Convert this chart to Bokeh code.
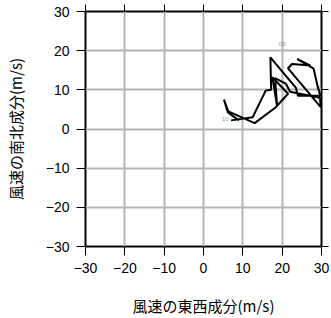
from bokeh.plotting import figure
from bokeh.models import FixedTicker, LinearAxis, Range1d
from bokeh.core.properties import value
from bokeh.embed import file_html
from bokeh.resources import INLINE

# wind components (m/s)
u = [7.0, 12.5, 15.8, 17.2, 17.0, 23.5, 24.0, 29.7, 29.0, 28.0, 23.8, 27.2,
     22.5, 21.5, 29.8, 29.6, 22.0, 21.0, 18.2, 18.7, 17.5, 21.5, 18.3, 13.0,
     6.3, 5.2, 6.2, 9.0]
v = [2.2, 3.0, 9.8, 10.0, 18.3, 10.5, 8.5, 8.5, 11.0, 15.4, 17.9, 16.2,
     16.6, 15.5, 5.6, 8.0, 9.5, 11.5, 13.0, 6.0, 13.2, 9.0, 5.5, 1.5,
     4.5, 7.5, 4.2, 2.2]
label_text = ["09", "10", "10"]
label_u = [20.0, 5.5, 29.3]
label_v = [21.8, 2.5, 10.8]
ticks = [-30, -20, -10, 0, 10, 20, 30]
tick_labels = {t: (str(t).replace("-", "\u2212")) for t in ticks}

p = figure(width=331, height=318, output_backend="svg", toolbar_location=None,
           x_range=Range1d(-30, 30), y_range=Range1d(-30, 30),
           x_axis_label="風速の東西成分(m/s)", y_axis_label="風速の南北成分(m/s)",
           min_border_left=85, min_border_right=10, min_border_top=11,
           min_border_bottom=72)
p.background_fill_color = "white"
p.border_fill_color = "white"
p.outline_line_color = "black"
p.outline_line_width = 2

for ax in (p.xaxis[0], p.yaxis[0]):
    ax.ticker = FixedTicker(ticks=ticks)
    ax.major_label_overrides = tick_labels
    ax.major_tick_out = 9
    ax.major_tick_in = 0
    ax.minor_tick_out = 0
    ax.minor_tick_in = 0
    ax.axis_line_color = None
    ax.major_tick_line_color = "black"
    ax.major_label_text_font = "Liberation Sans"
    ax.major_label_text_font_size = "14px"
    ax.major_label_text_color = "black"
    ax.major_label_standoff = 7
    ax.axis_label_text_font = "Noto Sans CJK JP"
    ax.axis_label_text_font_size = "15px"
    ax.axis_label_text_font_style = "normal"
    ax.axis_label_text_color = "black"
    ax.axis_label_standoff = 19
p.yaxis[0].axis_label_standoff = 17

for loc in ("above", "right"):
    a = LinearAxis(ticker=FixedTicker(ticks=ticks),
                   major_label_overrides={t: "" for t in ticks},
                   major_tick_out=7, major_tick_in=0, minor_tick_out=0, minor_tick_in=0,
                   axis_line_color=None, major_label_standoff=0)
    p.add_layout(a, loc)

p.xgrid.ticker = FixedTicker(ticks=ticks)
p.ygrid.ticker = FixedTicker(ticks=ticks)
for g in (p.xgrid[0], p.ygrid[0]):
    g.grid_line_color = "#b4b4b4"
    g.grid_line_width = 2

p.text(x=label_u, y=label_v, text=label_text, text_font=value("Liberation Sans"),
       text_font_size="6px", text_color="#999999", text_align="center",
       text_baseline="middle")
p.line(u, v, line_color="black", line_width=2)

open("out.html", "w").write(file_html(p, INLINE))
